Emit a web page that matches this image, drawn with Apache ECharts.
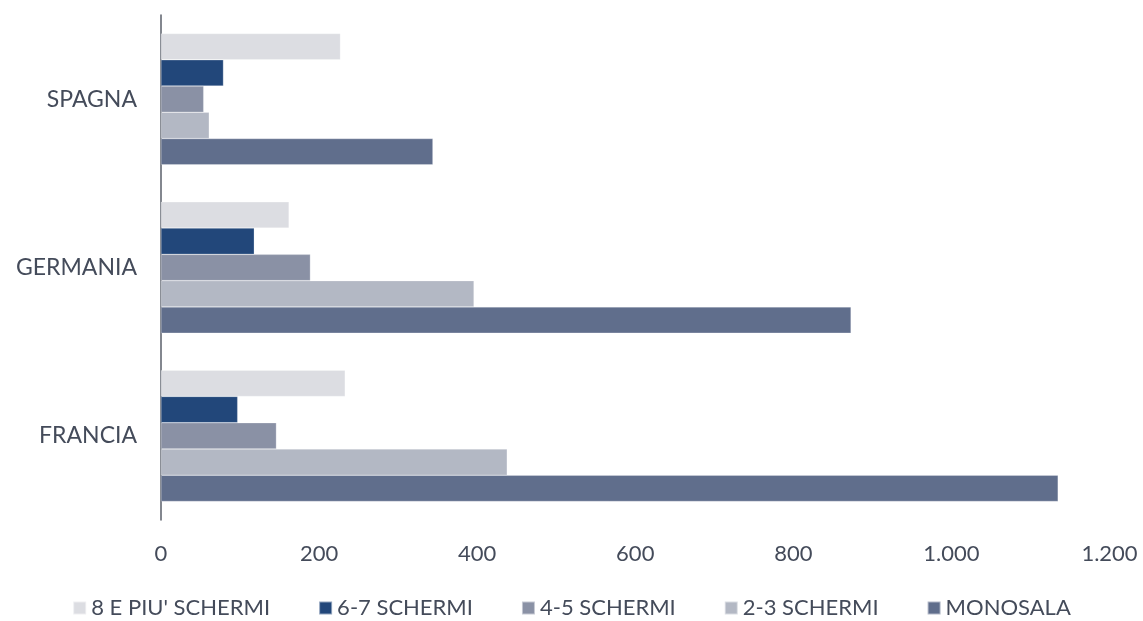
<!DOCTYPE html>
<html>
<head>
<meta charset="utf-8">
<script src="https://cdn.jsdelivr.net/npm/echarts@6/dist/echarts.min.js"></script>
<style>
  html, body { margin: 0; padding: 0; background: #fff; }
  #chart { width: 1143px; height: 621px; }
</style>
</head>
<body>
<div id="chart"></div>
<script>
// paesi (dal basso verso l'alto)
var paesi = ['FRANCIA', 'GERMANIA', 'SPAGNA'];

// numero di cinema per classe di schermi
var otto_piu = [233, 162, 227];
var sei_sette = [97, 118, 79];
var quattro_cinque = [146, 189, 54];
var due_tre = [438, 396, 61];
var monosala = [1135, 873, 344];

var xTicks = [0, 200, 400, 600, 800, 1000, 1200];

var fontName = 'Lato, "Open Sans", sans-serif';
var textColor = '#444b5a';

var formatNum = function (v) {
    return String(v).replace(/\B(?=(\d{3})+(?!\d))/g, '.');
}

var serie = [
    { name: "8 E PIU' SCHERMI", data: otto_piu, color: '#dcdde2' },
    { name: '6-7 SCHERMI', data: sei_sette, color: '#22477a' },
    { name: '4-5 SCHERMI', data: quattro_cinque, color: '#8a91a5' },
    { name: '2-3 SCHERMI', data: due_tre, color: '#b3b8c4' },
    { name: 'MONOSALA', data: monosala, color: '#606e8c' }
];

var option = {
    backgroundColor: '#fff',
    animation: false,
    textStyle: { fontFamily: fontName },
    legend: {
        top: 592,
        left: 'center',
        itemWidth: 13,
        itemHeight: 13,
        itemGap: 48,
        icon: 'rect',
        data: serie.map(function (s) { return s.name; }),
        textStyle: { fontSize: 22, color: textColor, fontFamily: fontName }
    },
    grid: {
        left: 161,
        right: 33.5,
        top: 15,
        bottom: 101,
        containLabel: false
    },
    xAxis: {
        type: 'value',
        min: xTicks[0],
        max: xTicks[xTicks.length - 1],
        interval: 200,
        axisLine: { show: false },
        axisTick: { show: false },
        splitLine: { show: false },
        axisLabel: {
            fontSize: 22,
            color: textColor,
            margin: 23,
            formatter: function (v) { return formatNum(v); }
        }
    },
    yAxis: {
        type: 'category',
        data: paesi,
        axisLine: { show: true, lineStyle: { color: '#5a5f6a', width: 1.5 } },
        axisTick: { show: false },
        axisLabel: { fontSize: 23, color: textColor, margin: 24 }
    },
    series: serie.map(function (s) {
        return {
            name: s.name,
            type: 'bar',
            data: s.data,
            barGap: '0%',
            barCategoryGap: '22%',
            itemStyle: { color: s.color, borderColor: 'rgba(255,255,255,0.5)', borderWidth: 0.5 }
        };
    })
};

var chart = echarts.init(document.getElementById('chart'));
chart.setOption(option);
</script>
</body>
</html>
